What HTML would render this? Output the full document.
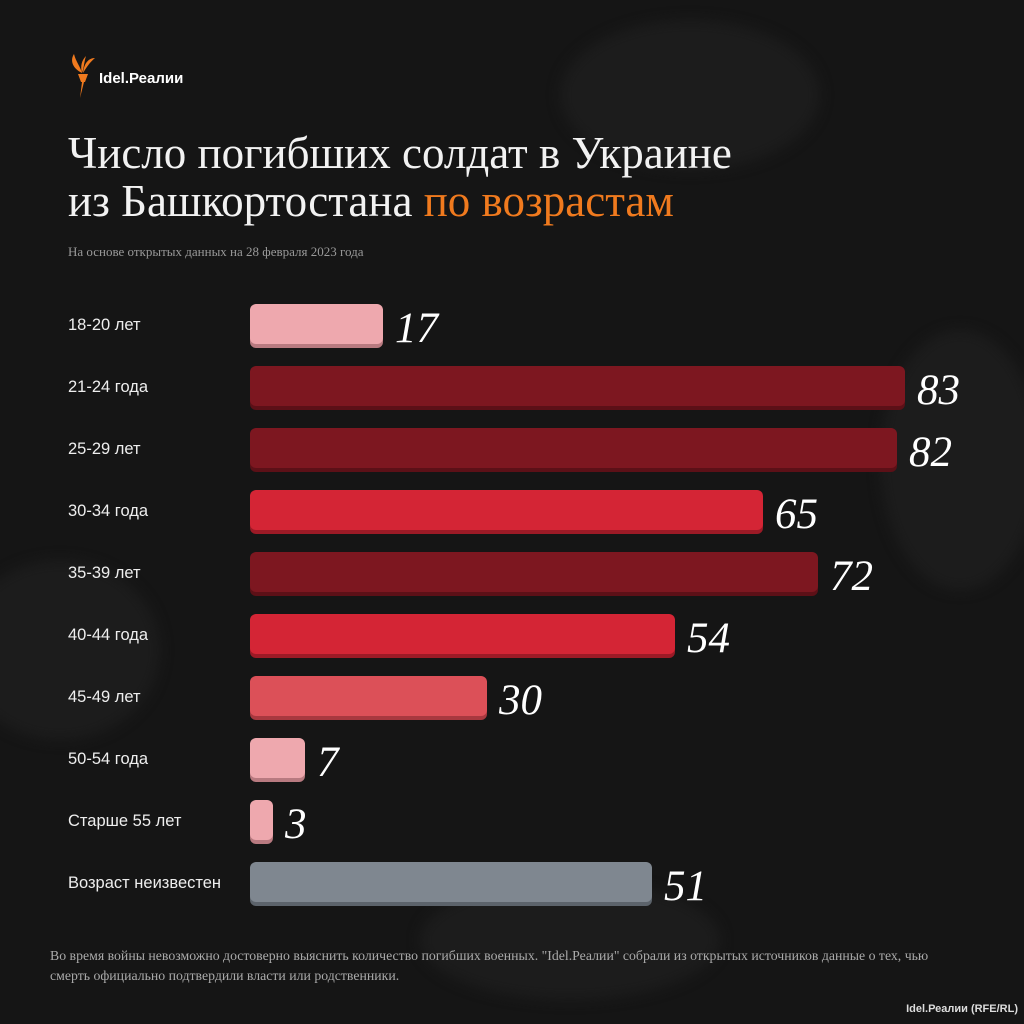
<!DOCTYPE html>
<html><head><meta charset="utf-8"><style>
body{margin:0;width:1024px;height:1024px;background:#151515;position:relative;overflow:hidden;font-family:"Liberation Sans",sans-serif;color:#fff}
.t{position:absolute;left:68px;font-family:"Liberation Serif",serif;font-size:45px;line-height:56px;color:#f2f2f2}
.lab{position:absolute;left:68px;font-size:16.5px;color:#eee}
.bar{position:absolute;left:250px;height:40px;border-radius:6px}
.val{position:absolute;font-family:"Liberation Serif",serif;font-style:italic;font-size:43px;color:#fff}
.blob{position:absolute;border-radius:50%;background:#1c1c1c;filter:blur(6px)}
</style></head><body>
<div class="blob" style="left:560px;top:20px;width:260px;height:150px"></div>
<div class="blob" style="left:880px;top:330px;width:160px;height:260px"></div>
<div class="blob" style="left:-40px;top:560px;width:200px;height:180px"></div>
<div class="blob" style="left:420px;top:880px;width:300px;height:120px"></div>
<svg style="position:absolute;left:68px;top:52px" width="28" height="48" viewBox="0 0 28 48"><path d="M10 22 L20 22 L17 30 L13 30 Z M14 30 L12 46 L16 30Z" fill="#f07a1e"/><path d="M14 21 C4 16 2 8 6 2 C8 10 12 14 14 21Z M15 21 C16 12 20 6 27 6 C22 10 18 16 15 21Z M14 21 C12 14 14 8 18 4 C16 10 16 16 14 21Z" fill="#f07a1e"/></svg>
<div style="position:absolute;left:99px;top:70px;font-size:15px;font-weight:bold">Idel.Реалии</div>
<div class="t" style="top:125px">Число погибших солдат в Украине</div>
<div class="t" style="top:173px">из Башкортостана <span style="color:#f07a1e">по возрастам</span></div>
<div style="position:absolute;left:68px;top:244px;font-family:'Liberation Serif',serif;font-size:13px;color:#999">На основе открытых данных на 28 февраля 2023 года</div>

<div class="lab" style="top:316px">18-20 лет</div>
<div class="bar" style="top:304px;width:133px;background:#eea8ae;box-shadow:0 4px 0 #b87a80"></div>
<div class="val" style="top:304px;left:395px">17</div>

<div class="lab" style="top:378px">21-24 года</div>
<div class="bar" style="top:366px;width:655px;background:#7d1720;box-shadow:0 4px 0 #5c1017"></div>
<div class="val" style="top:366px;left:917px">83</div>

<div class="lab" style="top:440px">25-29 лет</div>
<div class="bar" style="top:428px;width:647px;background:#7d1720;box-shadow:0 4px 0 #5c1017"></div>
<div class="val" style="top:428px;left:909px">82</div>

<div class="lab" style="top:502px">30-34 года</div>
<div class="bar" style="top:490px;width:513px;background:#d42535;box-shadow:0 4px 0 #9c1a26"></div>
<div class="val" style="top:490px;left:775px">65</div>

<div class="lab" style="top:564px">35-39 лет</div>
<div class="bar" style="top:552px;width:568px;background:#7d1720;box-shadow:0 4px 0 #5c1017"></div>
<div class="val" style="top:552px;left:830px">72</div>

<div class="lab" style="top:626px">40-44 года</div>
<div class="bar" style="top:614px;width:425px;background:#d42535;box-shadow:0 4px 0 #9c1a26"></div>
<div class="val" style="top:614px;left:687px">54</div>

<div class="lab" style="top:688px">45-49 лет</div>
<div class="bar" style="top:676px;width:237px;background:#dc5058;box-shadow:0 4px 0 #a8383f"></div>
<div class="val" style="top:676px;left:499px">30</div>

<div class="lab" style="top:750px">50-54 года</div>
<div class="bar" style="top:738px;width:55px;background:#eea8ae;box-shadow:0 4px 0 #b87a80"></div>
<div class="val" style="top:738px;left:317px">7</div>

<div class="lab" style="top:812px">Старше 55 лет</div>
<div class="bar" style="top:800px;width:23px;background:#eea8ae;box-shadow:0 4px 0 #b87a80"></div>
<div class="val" style="top:800px;left:285px">3</div>

<div class="lab" style="top:874px">Возраст неизвестен</div>
<div class="bar" style="top:862px;width:402px;background:#7f8790;box-shadow:0 4px 0 #5c636b"></div>
<div class="val" style="top:862px;left:664px">51</div>

<div style="position:absolute;left:50px;top:946px;width:900px;font-family:'Liberation Serif',serif;font-size:13.8px;line-height:20px;color:#aaa">Во время войны невозможно достоверно выяснить количество погибших военных. "Idel.Реалии" собрали из открытых источников данные о тех, чью смерть официально подтвердили власти или родственники.</div>
<div style="position:absolute;right:6px;top:1003px;font-size:11px;font-weight:bold;color:#ddd">Idel.Реалии (RFE/RL)</div>
</body></html>
